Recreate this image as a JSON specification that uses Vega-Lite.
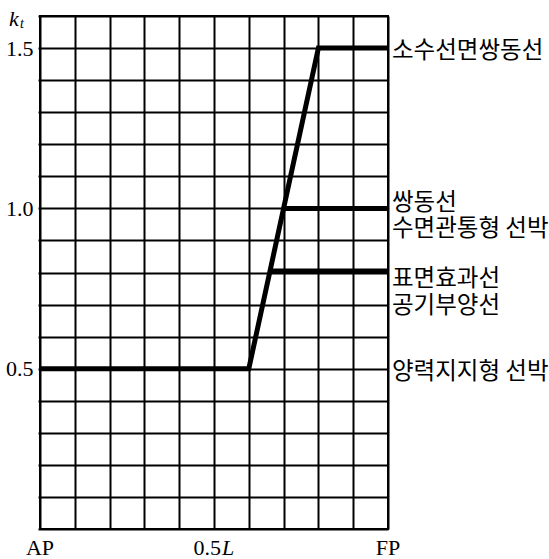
{
  "$schema": "https://vega.github.io/schema/vega-lite/v6.json",
  "autosize": "none",
  "width": 348,
  "height": 513,
  "padding": {"left": 40, "top": 16, "right": 161, "bottom": 30},
  "background": "white",
  "config": {
    "view": {"stroke": "black", "strokeWidth": 2},
    "axis": {"domain": false}
  },
  "datasets": {
    "lines": [
      {"series": "main", "x": 0, "y": 0.5},
      {"series": "main", "x": 0.6, "y": 0.5},
      {"series": "main", "x": 0.8, "y": 1.5},
      {"series": "main", "x": 1, "y": 1.5},
      {"series": "b1", "x": 0.7, "y": 1.0},
      {"series": "b1", "x": 1, "y": 1.0},
      {"series": "b2", "x": 0.661, "y": 0.805},
      {"series": "b2", "x": 1, "y": 0.805}
    ],
    "single": [
      {"x": 1, "y": 1.5, "label": "소수선면쌍동선"},
      {"x": 1, "y": 0.5, "label": "양력지지형 선박"}
    ],
    "grp1": [
      {"x": 1, "y": 1.0, "label": ["쌍동선", "수면관통형 선박"]}
    ],
    "grp2": [
      {"x": 1, "y": 0.805, "label": ["표면효과선", "공기부양선"]}
    ],
    "xlab": [
      {"x": 0, "y": 0, "label": "AP"},
      {"x": 1, "y": 0, "label": "FP"}
    ]
  },
  "encoding": {
    "x": {
      "field": "x", "type": "quantitative",
      "scale": {"domain": [0, 1], "nice": false, "zero": false},
      "axis": {
        "values": [0, 0.1, 0.2, 0.3, 0.4, 0.5, 0.6, 0.7, 0.8, 0.9, 1],
        "grid": true, "gridColor": "black", "gridWidth": 2, "gridOpacity": 1,
        "ticks": false, "labels": false, "title": null
      }
    },
    "y": {
      "field": "y", "type": "quantitative",
      "scale": {"domain": [0, 1.6], "nice": false, "zero": false},
      "axis": {
        "values": [0, 0.1, 0.2, 0.3, 0.4, 0.5, 0.6, 0.7, 0.8, 0.9, 1, 1.1, 1.2, 1.3, 1.4, 1.5, 1.6],
        "grid": true, "gridColor": "black", "gridWidth": 2, "gridOpacity": 1,
        "ticks": true, "tickColor": "black", "tickWidth": 2, "tickSize": 2,
        "labelOverlap": false,
        "labelExpr": "indexof(['0.5','1.0','1.5'], format(datum.value, '.1f')) >= 0 ? format(datum.value, '.1f') : ''",
        "labelFont": "Liberation Serif", "labelFontSize": 22, "labelColor": "black",
        "labelPadding": 5, "title": null
      }
    }
  },
  "layer": [
    {
      "data": {"name": "lines"},
      "mark": {"type": "line", "color": "black", "strokeWidth": 5, "strokeCap": "butt", "strokeJoin": "miter", "clip": false},
      "encoding": {
        "detail": {"field": "series"}
      }
    },
    {
      "data": {"name": "single"},
      "mark": {"type": "text", "align": "left", "baseline": "middle", "dx": 4, "dy": 3, "font": "Noto Sans CJK KR", "fontSize": 23.5, "color": "black"},
      "encoding": {
        "text": {"field": "label"}
      }
    },
    {
      "data": {"name": "grp1"},
      "mark": {"type": "text", "align": "left", "baseline": "middle", "dx": 4, "dy": -5, "lineHeight": 26, "font": "Noto Sans CJK KR", "fontSize": 23.5, "color": "black"},
      "encoding": {
        "text": {"field": "label"}
      }
    },
    {
      "data": {"name": "grp2"},
      "mark": {"type": "text", "align": "left", "baseline": "middle", "dx": 4, "dy": 8, "lineHeight": 27, "font": "Noto Sans CJK KR", "fontSize": 23.5, "color": "black"},
      "encoding": {
        "text": {"field": "label"}
      }
    },
    {
      "data": {"name": "xlab"},
      "mark": {"type": "text", "align": "center", "baseline": "alphabetic", "dy": 26, "font": "Liberation Serif", "fontSize": 22, "color": "black"},
      "encoding": {
        "text": {"field": "label"}
      }
    },
    {
      "data": {"values": [{"x": 0.5, "y": 0, "label": "0.5"}]},
      "mark": {"type": "text", "align": "right", "baseline": "alphabetic", "dx": 7, "dy": 26, "font": "Liberation Serif", "fontSize": 22, "color": "black"},
      "encoding": {
        "text": {"field": "label"}
      }
    },
    {
      "data": {"values": [{"x": 0.5, "y": 0, "label": "L"}]},
      "mark": {"type": "text", "align": "left", "baseline": "alphabetic", "dx": 8, "dy": 26, "font": "Liberation Serif", "fontStyle": "italic", "fontSize": 22, "color": "black"},
      "encoding": {
        "text": {"field": "label"}
      }
    },
    {
      "data": {"values": [{"x": 0, "y": 1.6, "label": "k"}]},
      "mark": {"type": "text", "align": "left", "baseline": "alphabetic", "dx": -31, "dy": 10, "font": "Liberation Serif", "fontStyle": "italic", "fontSize": 22, "color": "black"},
      "encoding": {
        "text": {"field": "label"}
      }
    },
    {
      "data": {"values": [{"x": 0, "y": 1.6, "label": "t"}]},
      "mark": {"type": "text", "align": "left", "baseline": "alphabetic", "dx": -20, "dy": 12, "font": "Liberation Serif", "fontStyle": "italic", "fontSize": 14, "color": "black"},
      "encoding": {
        "text": {"field": "label"}
      }
    }
  ]
}
